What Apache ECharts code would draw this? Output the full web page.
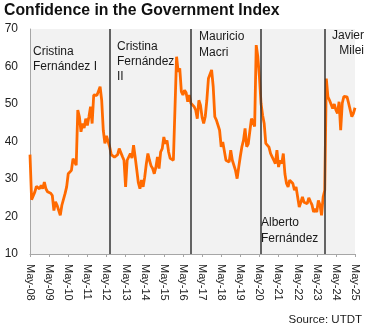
<!DOCTYPE html>
<html><head><meta charset="utf-8">
<script src="https://cdn.jsdelivr.net/npm/echarts@6/dist/echarts.min.js"></script>
<style>html,body{margin:0;padding:0;background:#fff}#c{width:375px;height:331px}</style>
</head><body><div id="c"></div>
<script>
// Monthly index, May 2008 .. May 2025
const startYear = 2008, startMonth = 4;
const monthNames = ['Jan','Feb','Mar','Apr','May','Jun','Jul','Aug','Sep','Oct','Nov','Dec'];
const indexValues = [
  36.5,24.5,24.5,26.5,28,28.5,27.4,28.3,27.4,29.2,27.4,26.6,
  26.5,26.2,25.6,21.6,23.9,23,22.5,20.3,23,23.5,26.1,27.9,
  31.4,31.8,32.3,35.4,34.9,33.7,48.4,46.6,42.6,44.8,43.6,46.1,
  44.3,46.6,49.3,44.8,52.4,51.9,52.3,52,54.6,51,43,39.5,
  41.5,41.1,38.6,36.5,36,35.8,35.3,36.5,38.1,38.6,36,35,
  27.9,35,34.5,36.8,35.6,39,35.9,32.5,29,27.4,29.7,27.9,
  30.5,34,36.8,35,33.5,32.8,31.4,33.1,35.9,32.8,37.2,38.1,
  41.2,39.4,40.3,37.2,35.5,35.9,35,35.5,62.6,58.6,59.5,53.3,
  52.4,53.7,53,50.6,52.4,50.2,50,49.3,48.4,46.1,51,49.7,
  46.5,44.8,46.6,51,56.8,56.4,59.1,54.6,46.6,45.7,46,43,
  38.6,39.9,39.4,35,34.8,34.5,37.7,35,35.5,32.3,30.1,33.1,
  36,38.6,40.3,43.5,38.6,39.4,39.5,46.1,45.7,44,65.7,62.6,
  57.3,50.2,47,44.8,39.5,39.1,38.5,36.8,35.9,35,34.1,37.7,
  33.2,35,34.1,36.8,31.4,28.8,27.9,29.7,29.7,28.8,27,27.9,
  25.2,22.5,23.8,25.2,23.8,24.3,23.4,25,24,23.1,21.2,22,
  21.2,24.3,23.1,20.3,25.2,27,56.8,51.9,51,50.6,48.8,50,
  48.4,47.5,50.6,43,50.2,52,52.4,51.9,50.2,48.4,46.6,47.5,
  49
];
const categories = indexValues.map((_, i) => {
  const m = (startMonth + i) % 12;
  const y = startYear + Math.floor((startMonth + i) / 12);
  return monthNames[m] + '-' + String(y % 100).padStart(2, '0');
});
const yTicks = [10, 20, 30, 40, 50, 60, 70];
const termLineMonths = ['Jul-12', 'Oct-16', 'Jun-20', 'Oct-23'];
const termNames = ['Cristina\nFernández I', 'Cristina\nFernández\nII', 'Mauricio\nMacri', 'Alberto\nFernández', 'Javier', 'Milei'];
const titleText = 'Confidence in the Government Index';
const sourceText = 'Source: UTDT';

const FONT = '"Liberation Sans", Arial, sans-serif';
const chart = echarts.init(document.getElementById('c'), null, {renderer: 'canvas'});
const lab = (text, pos, extra) => Object.assign({
  type: 'text', silent: true,
  style: Object.assign({text: text, fill: '#1a1a1a', font: '12px ' + FONT, lineHeight: 15}, extra || {})
}, pos);
chart.setOption({
  animation: false,
  backgroundColor: '#fff',
  title: {text: titleText, left: 4, top: 3, padding: 0,
    textStyle: {fontFamily: FONT, fontSize: 15.8, fontWeight: 'bold', color: '#111'}},
  grid: {left: 30, right: 20, top: 29, bottom: 77, show: true, backgroundColor: '#f2f2f2', borderWidth: 0, containLabel: false},
  xAxis: {
    type: 'category', data: categories, boundaryGap: false,
    axisLine: {lineStyle: {color: '#a6a6a6', width: 1}},
    axisTick: {show: true, interval: 11, length: 3, lineStyle: {color: '#a6a6a6'}},
    axisLabel: {interval: 11, rotate: -90, margin: 10, fontSize: 11, fontFamily: FONT, color: '#222', showMaxLabel: true},
    splitLine: {show: false}
  },
  yAxis: {
    type: 'value', min: yTicks[0], max: yTicks[yTicks.length - 1], interval: 10,
    axisLine: {show: true, lineStyle: {color: '#a6a6a6', width: 1}},
    axisTick: {show: false},
    axisLabel: {fontSize: 12, fontFamily: FONT, color: '#222', margin: 12, padding: [3, 0, 0, 0]},
    splitLine: {show: false}
  },
  series: [{
    type: 'line', data: indexValues, showSymbol: false, symbol: 'none',
    lineStyle: {color: '#ff6a00', width: 2.8},
    markLine: {
      silent: true, symbol: 'none', animation: false,
      label: {show: false},
      lineStyle: {color: '#333', width: 1.5, type: 'solid'},
      data: termLineMonths.map(c => ({xAxis: c}))
    }
  }],
  graphic: [
    lab(termNames[0], {left: 33, top: 44}),
    lab(termNames[1], {left: 117, top: 39}),
    lab(termNames[2], {left: 199, top: 29}, {lineHeight: 15.5}),
    lab(termNames[3], {left: 261, top: 214}, {lineHeight: 16.5}),
    lab(termNames[4], {right: 11, top: 28}),
    lab(termNames[5], {right: 11, top: 43}),
    lab(sourceText, {right: 13, top: 312}, {font: '11.5px ' + FONT})
  ]
});
</script></body></html>
